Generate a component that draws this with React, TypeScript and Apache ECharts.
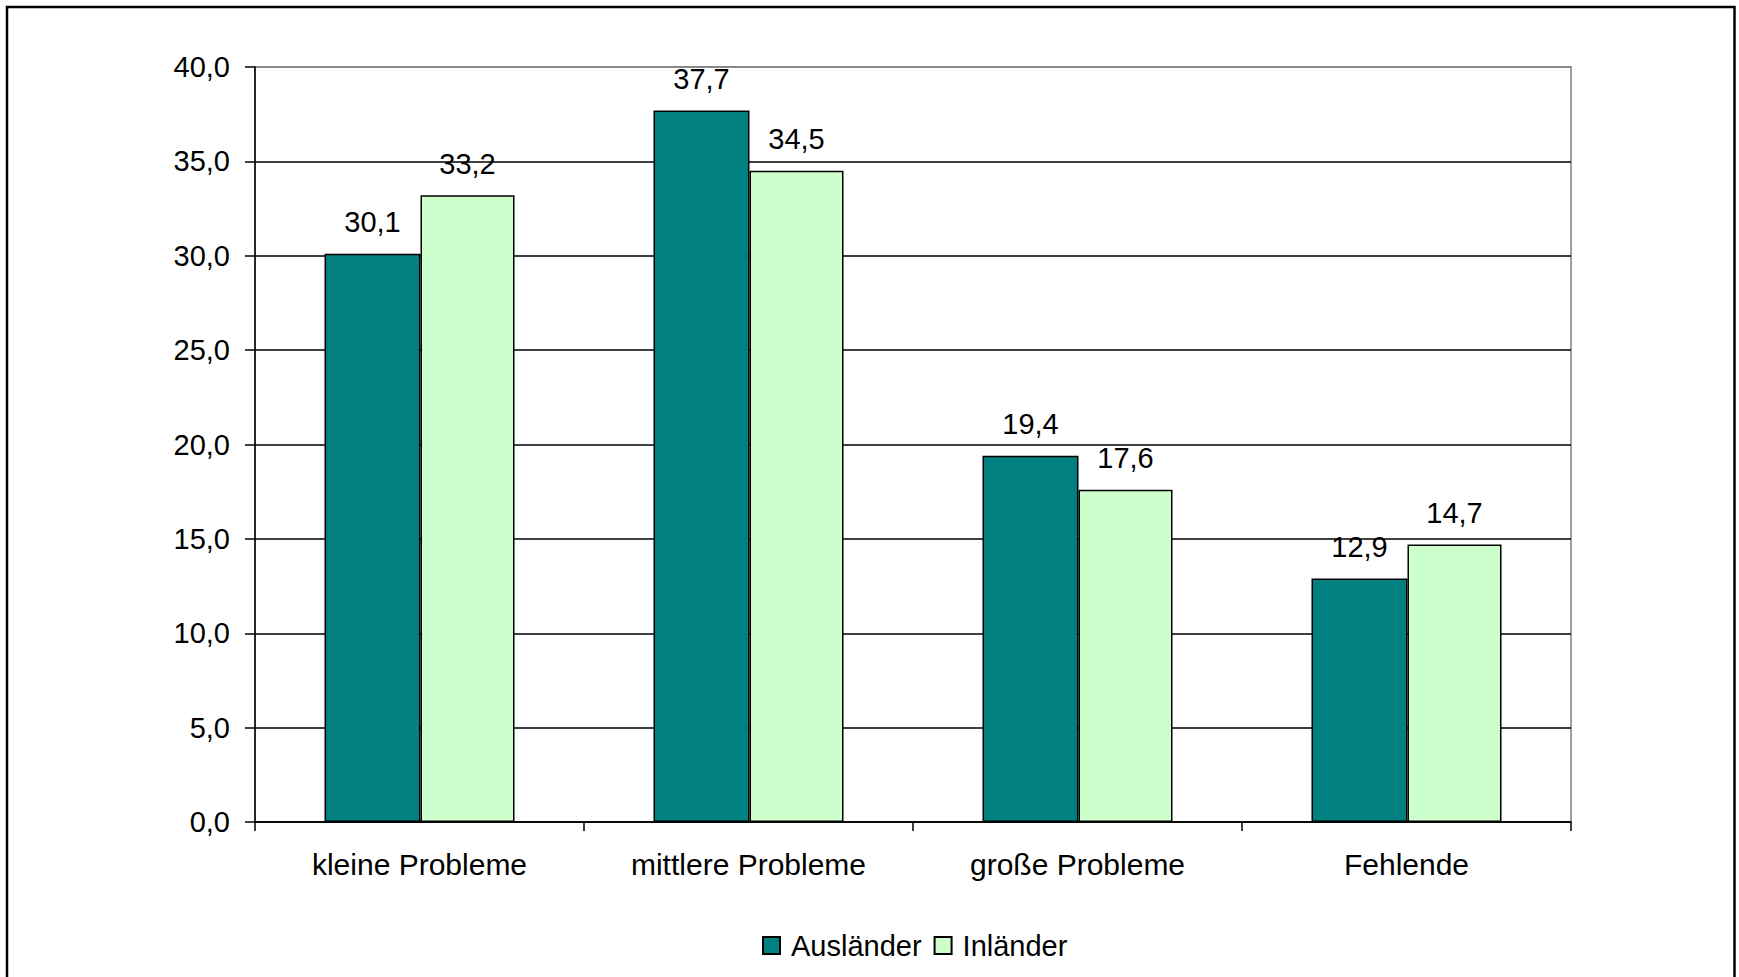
import React, { useEffect, useRef } from "react";
import * as echarts from "echarts";

const categories = ["kleine Probleme", "mittlere Probleme", "große Probleme", "Fehlende"];
const auslaender = [30.1, 37.7, 19.4, 12.9];
const inlaender = [33.2, 34.5, 17.6, 14.7];
const seriesNames = ["Ausländer", "Inländer"];

const FONT = "'Liberation Sans', Arial, sans-serif";
const fmt = (v: number) => v.toFixed(1).replace(".", ",");

export default function App() {
  const ref = useRef<HTMLDivElement>(null);
  useEffect(() => {
    if (!ref.current) return;
    const chart = echarts.init(ref.current, null, { renderer: "svg" });
    const label = {
      show: true,
      position: "top" as const,
      distance: 17,
      fontSize: 29,
      fontFamily: FONT,
      color: "#000",
      formatter: (p: any) => fmt(p.value),
    };
    chart.setOption({
      animation: false,
      backgroundColor: "#fff",
      textStyle: { fontFamily: FONT },
      grid: {
        left: 255,
        top: 67,
        right: 168,
        bottom: 155,
        show: true,
        borderColor: "#808080",
        borderWidth: 1.5,
        backgroundColor: "transparent",
      },
      legend: {
        left: 757,
        top: 926,
        itemWidth: 17,
        itemHeight: 17,
        itemGap: 12,
        icon: "rect",
        textStyle: { fontSize: 29, fontFamily: FONT, color: "#000", padding: [0, 0, 0, 6] },
        data: seriesNames,
      },
      xAxis: {
        type: "category",
        data: categories,
        axisLine: { lineStyle: { color: "#000", width: 1.5 } },
        axisTick: { show: true, alignWithLabel: false, length: 9, lineStyle: { color: "#000", width: 1.5 } },
        axisLabel: { fontSize: 30, fontFamily: FONT, color: "#000", margin: 27 },
        splitLine: { show: false },
      },
      yAxis: {
        type: "value",
        min: 0,
        max: 40,
        interval: 5,
        axisLine: { show: true, lineStyle: { color: "#000", width: 1.5 } },
        axisTick: { show: true, length: 10, lineStyle: { color: "#000", width: 1.5 } },
        axisLabel: { fontSize: 29, fontFamily: FONT, color: "#000", margin: 25, formatter: (v: number) => fmt(v) },
        splitLine: {
          show: true,
          lineStyle: {
            color: ["#000", "#000", "#000", "#000", "#000", "#000", "#000", "#000", "#808080"],
            width: 1.5,
          },
        },
      },
      graphic: [
        {
          type: "rect",
          shape: { x: 7, y: 7, width: 1727.5, height: 1000 },
          style: { fill: "none", stroke: "#000", lineWidth: 2.5 },
          silent: true,
        },
      ],
      series: [
        {
          name: seriesNames[0],
          type: "bar",
          data: auslaender,
          barWidth: 96,
          barGap: "0%",
          itemStyle: { color: "#008080", borderColor: "#000", borderWidth: 1.5 },
          label,
        },
        {
          name: seriesNames[1],
          type: "bar",
          data: inlaender,
          barWidth: 94,
          barGap: "0%",
          itemStyle: { color: "#CCFFCC", borderColor: "#000", borderWidth: 1.5 },
          label,
        },
      ],
    });
    return () => chart.dispose();
  }, []);
  return (
    <div
      ref={ref}
      style={{ position: "absolute", left: 0, top: 0, width: 1739, height: 977 }}
    />
  );
}
